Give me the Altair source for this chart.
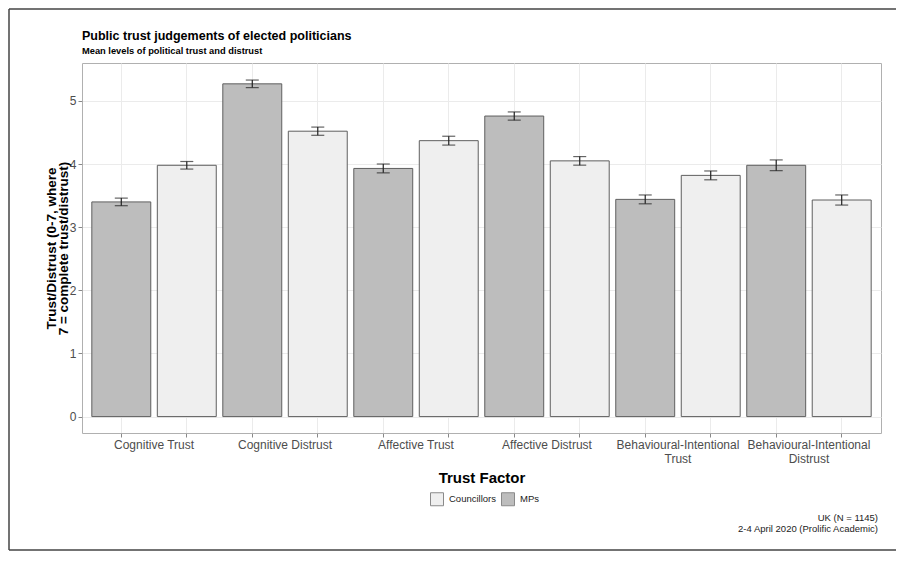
import altair as alt
import pandas as pd

factors = ["Cognitive Trust", "Cognitive Distrust", "Affective Trust",
           "Affective Distrust", "Behavioural-Intentional Trust",
           "Behavioural-Intentional Distrust"]
groups = ["MPs", "Councillors"]
mps_mean = [3.40, 5.27, 3.93, 4.76, 3.44, 3.98]
mps_err = [0.06, 0.06, 0.07, 0.065, 0.07, 0.085]
cou_mean = [3.98, 4.52, 4.37, 4.05, 3.82, 3.43]
cou_err = [0.06, 0.065, 0.07, 0.068, 0.07, 0.08]
y_grid = [0, 0.5, 1, 1.5, 2, 2.5, 3, 3.5, 4, 4.5, 5, 5.5]
caption = "UK (N = 1145)\n2-4 April 2020 (Prolific Academic)"

rows = []
for f, m1, e1, m2, e2 in zip(factors, mps_mean, mps_err, cou_mean, cou_err):
    rows.append({"key": f + "|MPs", "group": "MPs", "mean": m1, "lo": m1 - e1, "hi": m1 + e1})
    rows.append({"key": f + "|Councillors", "group": "Councillors", "mean": m2, "lo": m2 - e2, "hi": m2 + e2})
df = pd.DataFrame(rows)
order = list(df["key"])

W, H = 799, 370
PL, PT, PR, PB = 74, 55, 15, 118
step = W / (12 - 0.1 + 0.3)
FONT = "Liberation Sans"

label_expr = ("split(datum.value, '|')[1] == 'MPs' ? "
              "split(replace(split(datum.value, '|')[0], 'Intentional ', 'Intentional~'), '~') : ''")

x_enc = alt.X("key:N", sort=order,
              scale=alt.Scale(paddingInner=0.1, paddingOuter=0.15),
              axis=alt.Axis(title="Trust Factor", labelExpr=label_expr, labelAngle=0,
                            labelOffset=step / 2, labelOverlap=False, labelBound=False,
                            labelFlush=False, labelAlign="center", labelBaseline="top",
                            labelFontSize=12, labelColor="#4d4d4d", labelPadding=2,
                            labelLineHeight=14,
                            tickSize=4, tickColor="#888888", bandPosition=0.5,
                            grid=True, gridColor="#ebebeb", domain=False,
                            titleFontSize=15, titleFontWeight="bold", titleColor="#000000",
                            titlePadding=6))

y_scale = alt.Scale(domain=[-0.26, 5.6], nice=False, zero=False)
y_axis = alt.Axis(values=y_grid,
                  title=["Trust/Distrust (0-7, where", "7 = complete trust/distrust)"],
                  labelExpr="datum.value % 1 == 0 ? format(datum.value, 'd') : ''",
                  labelFontSize=12, labelColor="#4d4d4d", labelPadding=2,
                  tickSize=4, tickColor="#888888",
                  tickOpacity={"condition": {"test": "datum.value % 1 != 0", "value": 0}, "value": 1},
                  gridColor="#ebebeb",
                  gridWidth={"condition": {"test": "datum.value % 1 != 0", "value": 0.6}, "value": 1},
                  domain=False,
                  titleFontSize=13.5, titleFontWeight="bold", titleColor="#000000",
                  titlePadding=-1, titleLineHeight=11.5)

base = alt.Chart(df)

bars = base.mark_bar(stroke="#5f5f5f", strokeWidth=1).encode(
    x=x_enc,
    y=alt.Y("mean:Q", scale=y_scale, axis=y_axis),
    y2=alt.datum(0),
    color=alt.Color("group:N",
                    scale=alt.Scale(domain=["Councillors", "MPs"], range=["#efefef", "#bdbdbd"]),
                    legend=alt.Legend(title=None, orient="none", legendX=348, legendY=429,
                                      direction="horizontal", symbolType="square",
                                      symbolSize=169, symbolStrokeColor="#8a8a8a",
                                      symbolStrokeWidth=1, labelFontSize=9.5,
                                      labelColor="#222222", labelOffset=5, columnPadding=3,
                                      labelFont=FONT)),
)

err = base.mark_rule(color="#222222", strokeWidth=1.2).encode(
    x=alt.X("key:N", sort=order), y="lo:Q", y2="hi:Q")
cap_lo = base.mark_tick(color="#222222", thickness=1.2, size=13).encode(
    x=alt.X("key:N", sort=order), y="lo:Q")
cap_hi = base.mark_tick(color="#222222", thickness=1.2, size=13).encode(
    x=alt.X("key:N", sort=order), y="hi:Q")

cap = alt.Chart(pd.DataFrame({"t": [caption]})).mark_text(
    align="right", baseline="alphabetic", fontSize=9.5, font=FONT, color="#222222",
    lineBreak="\n", lineHeight=11).encode(
    text="t:N", x=alt.value(W - 3), y=alt.value(458))

# outer picture frame (top, left, bottom edges), kept inside the drawing
fr = pd.DataFrame({"f": [1]})
FTOP, FLEFT, FBOT, FRIGHT = -PT + 1, -PL + 1, H + PB - 1, W + PR + 10
frame_top = alt.Chart(fr).mark_rule(color="#444444", strokeWidth=1.5).encode(
    x=alt.value(FLEFT), x2=alt.value(FRIGHT), y=alt.value(FTOP))
frame_left = alt.Chart(fr).mark_rule(color="#444444", strokeWidth=1.5).encode(
    x=alt.value(FLEFT), y=alt.value(FTOP), y2=alt.value(FBOT))
frame_bot = alt.Chart(fr).mark_rule(color="#444444", strokeWidth=1.5).encode(
    x=alt.value(FLEFT), x2=alt.value(FRIGHT), y=alt.value(FBOT))

chart = alt.layer(frame_top, frame_left, frame_bot, bars, err, cap_lo, cap_hi, cap).properties(
    width=W, height=H,
    autosize=alt.AutoSizeParams(type="none"),
    padding={"left": PL, "top": PT, "right": PR, "bottom": PB},
    title=alt.TitleParams(text="Public trust judgements of elected politicians",
                          subtitle="Mean levels of political trust and distrust",
                          anchor="start", frame="group", font=FONT, fontSize=12.5,
                          fontWeight="bold", color="#000000", subtitleFont=FONT,
                          subtitleFontSize=9.3, subtitleFontWeight="bold",
                          subtitleColor="#000000", subtitlePadding=4, offset=7,
                          dy=-FTOP + 1),
).configure(font=FONT).configure_view(stroke="#b0b0b0", strokeWidth=1)

chart.save("out.html", embed_options={"renderer": "svg", "actions": False})
